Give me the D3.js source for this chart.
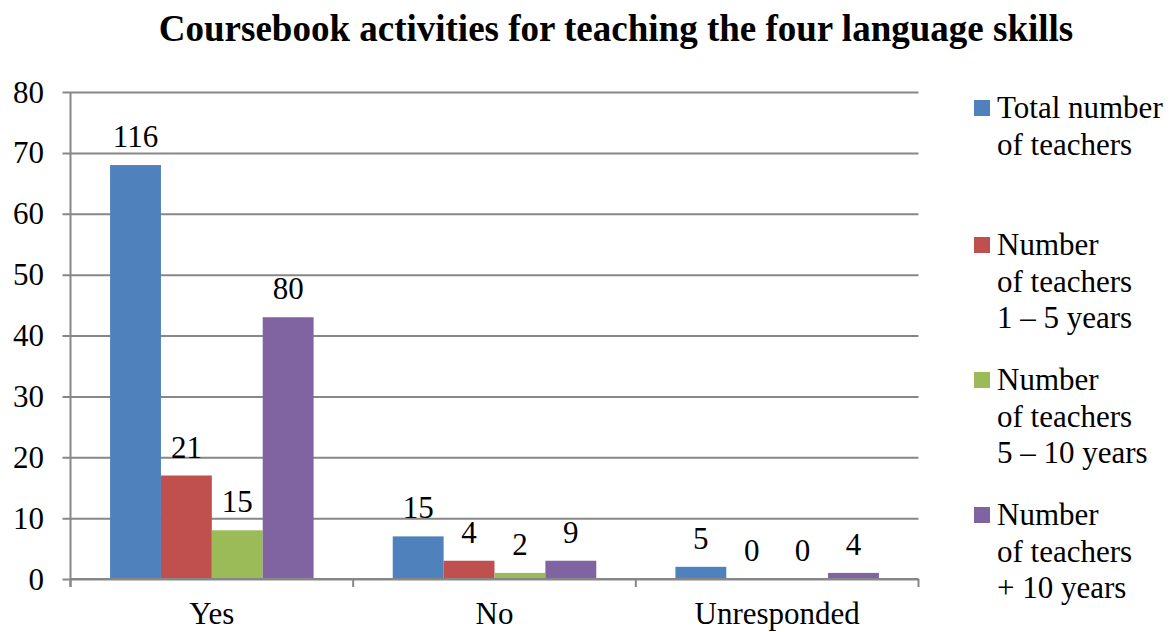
<!DOCTYPE html>
<html><head><meta charset="utf-8">
<script src="https://cdn.jsdelivr.net/npm/d3@7"></script>
<style>body{margin:0;background:#fff}svg{display:block}</style>
</head><body><svg id="c" width="1172" height="632"></svg>
<script>
const categories = ["Yes", "No", "Unresponded"];
const seriesNames = ["Total number of teachers", "Number of teachers 1 – 5 years", "Number of teachers 5 – 10 years", "Number of teachers + 10 years"];
const legendLines = [["Total number", "of teachers"], ["Number", "of teachers", "1 – 5 years"], ["Number", "of teachers", "5 – 10 years"], ["Number", "of teachers", "+ 10 years"]];
const colors = ["#4F81BD", "#C0504D", "#9BBB59", "#8064A2"];
// bar heights as drawn (per category, per series)
const totalValues = [68, 7, 2];
const years1to5Values = [17, 3, 0];
const years5to10Values = [8, 1, 0];
const years10plusValues = [43, 3, 1];
// data labels as printed
const totalLabels = [116, 15, 5];
const years1to5Labels = [21, 4, 0];
const years5to10Labels = [15, 2, 0];
const years10plusLabels = [80, 9, 4];
const yTicks = [0, 10, 20, 30, 40, 50, 60, 70, 80];

const values = [totalValues, years1to5Values, years5to10Values, years10plusValues];
const labels = [totalLabels, years1to5Labels, years5to10Labels, years10plusLabels];

const FONT = "Liberation Serif";
const FS = "31px";
const svg = d3.select("#c").style("font-family", FONT);
const L = 70.5, R = 918.5, T = 92, B = 579;
const x0 = d3.scaleBand().domain(categories).range([L, R]);
const bw = x0.bandwidth();
const gap = bw * 0.14;
const x1 = d3.scaleBand().domain(d3.range(4)).range([gap, bw - gap]);
const y = d3.scaleLinear().domain([0, 80]).range([B, T]);
const grey = "#878787";

svg.append("text").attr("x", 616).attr("y", 41).attr("text-anchor", "middle")
  .style("font-family", FONT).style("font-size", "37px").style("font-weight", "bold")
  .text("Coursebook activities for teaching the four language skills");

// gridlines
const yAxis = d3.axisLeft(y).tickValues(yTicks).tickSize(-(R - L + 8)).tickFormat("");
const gy = svg.append("g").attr("transform", `translate(${L - 8},0)`).call(yAxis);
gy.select(".domain").remove();
gy.selectAll("line").attr("stroke", grey).attr("stroke-width", 2);
// y labels
svg.append("g").selectAll("text").data(yTicks).join("text")
  .attr("x", 44).attr("y", d => y(d)).attr("dy", "0.34em").attr("text-anchor", "end")
  .style("font-family", FONT).style("font-size", FS).text(d => d);
// y axis line
svg.append("line").attr("x1", L).attr("x2", L).attr("y1", T).attr("y2", B + 8).attr("stroke", grey).attr("stroke-width", 2);

// bars and labels
categories.forEach((c, ci) => {
  const g = svg.append("g").attr("transform", `translate(${x0(c)},0)`);
  values.forEach((vals, si) => {
    const v = vals[ci];
    if (v > 0) g.append("rect").attr("x", x1(si)).attr("width", x1.bandwidth())
      .attr("y", y(v)).attr("height", y(0) - y(v)).attr("fill", colors[si]);
    g.append("text").attr("x", x1(si) + x1.bandwidth() / 2).attr("y", y(v) - 18)
      .attr("text-anchor", "middle").style("font-family", FONT).style("font-size", FS).text(labels[si][ci]);
  });
});

// x axis
const xAxis = d3.axisBottom(x0).tickSize(0).tickPadding(0);
const gx = svg.append("g").attr("transform", `translate(0,${B})`).call(xAxis);
gx.attr("font-family", null).attr("font-size", null);
gx.select(".domain").attr("stroke", grey).attr("stroke-width", 2).attr("d", `M${L},0H${R}`);
gx.selectAll("text").attr("fill", "#000").attr("y", 45).attr("dy", 0)
  .style("font-family", FONT).style("font-size", FS);
// boundary ticks
svg.append("g").selectAll("line").data(categories.map(c => x0(c)).concat([R])).join("line")
  .attr("x1", d => d).attr("x2", d => d).attr("y1", B).attr("y2", B + 8).attr("stroke", grey).attr("stroke-width", 2);

// legend
const legendTops = [118, 255, 390, 525];
const lg = svg.append("g");
legendLines.forEach((lines, i) => {
  lg.append("rect").attr("x", 974).attr("y", legendTops[i] - 18).attr("width", 16).attr("height", 16).attr("fill", colors[i]);
  lines.forEach((t, j) => {
    lg.append("text").attr("x", 997).attr("y", legendTops[i] + j * 36.5)
      .style("font-family", FONT).style("font-size", FS).text(t);
  });
});
</script></body></html>
